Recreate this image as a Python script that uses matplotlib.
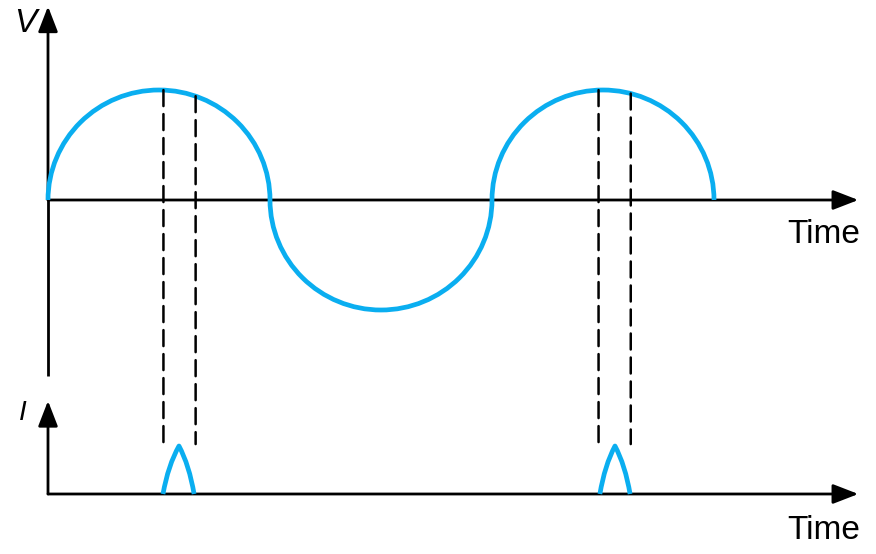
import matplotlib
matplotlib.use("Agg")
import matplotlib.pyplot as plt
from matplotlib.patches import Arc, ConnectionPatch, PathPatch
from matplotlib.path import Path

# --- data (time in half-cycles, V and I in units of their peak) ---
half_cycle_centres = [0.5, 1.5, 2.5]
half_cycle_signs = [1, -1, 1]
v_peak = 1.0

dash_times = [0.52, 0.665, 2.48, 2.625]

pulse_start = [0.518, 2.486]
pulse_peak_t = [0.59, 2.554]
pulse_end = [0.658, 2.622]
pulse_height = [1.0, 1.0]

BLUE = "#0aaef0"
BLACK = "#000000"
AXIS_LW = 2.0
WAVE_LW = 3.4

plt.rcParams["font.family"] = ["Liberation Sans", "DejaVu Sans"]

fig = plt.figure(figsize=(8.76, 5.54), dpi=100)
fig.patch.set_facecolor("white")

# two transparent overlaid axes, one for V and one for I
ax_v = fig.add_axes([0, 0, 1, 1])
ax_i = fig.add_axes([0, 0, 1, 1])
xlim = (-48 / 222, 828 / 222)
for ax in (ax_v, ax_i):
    ax.set_xlim(*xlim)
    ax.set_axis_off()
    ax.patch.set_alpha(0)
ax_v.set_ylim(-354 / 110, 200 / 110)
ax_i.set_ylim(-60 / 48, 494 / 48)

arrow = dict(arrowstyle="-|>,head_length=0.62,head_width=0.24", mutation_scale=25,
             lw=AXIS_LW, color=BLACK, shrinkA=0, shrinkB=0)

# V axes
ax_v.plot([0, 0], [-1.6, 0], color=BLACK, lw=AXIS_LW, solid_capstyle="butt")
ax_v.annotate("", xy=(0, 1.76), xytext=(0, 0), arrowprops=arrow)
ax_v.annotate("", xy=(3.65, 0), xytext=(0, 0), arrowprops=arrow)
ax_v.text(-0.104, 1.60, "V", fontsize=24, style="italic", ha="center", va="center")
ax_v.text(3.66, -0.31, "Time", fontsize=24, ha="right", va="center")

# I axes
ax_i.annotate("", xy=(0, 1.94), xytext=(0, 0), arrowprops=arrow)
ax_i.annotate("", xy=(3.65, 0), xytext=(0, 0), arrowprops=arrow)
ax_i.text(-0.113, 1.69, "I", fontsize=20, style="italic", ha="center", va="center")
ax_i.text(3.66, -0.76, "Time", fontsize=24, ha="right", va="center")

# voltage half cycles
for c, s in zip(half_cycle_centres, half_cycle_signs):
    t1, t2 = (0, 180) if s > 0 else (180, 360)
    ax_v.add_patch(Arc((c, 0), 1.0, 2 * v_peak, theta1=t1, theta2=t2,
                       color=BLUE, lw=WAVE_LW, zorder=4))

# current pulses: two gently convex flanks meeting in a point at the peak
for a, p, b, h in zip(pulse_start, pulse_peak_t, pulse_end, pulse_height):
    verts = [(a, 0), (a + 0.32 * (p - a), 0.6 * h), (p, h),
             (b - 0.32 * (b - p), 0.6 * h), (b, 0)]
    codes = [Path.MOVETO, Path.CURVE3, Path.CURVE3, Path.CURVE3, Path.CURVE3]
    ax_i.add_patch(PathPatch(Path(verts, codes), fill=False, edgecolor=BLUE,
                             lw=WAVE_LW, capstyle="butt", joinstyle="round", zorder=4))

# dashed guides from the voltage curve down to the pulses
for t in dash_times:
    c = half_cycle_centres[int(t)]
    v_top = v_peak * max(0.0, 1 - ((t - c) / 0.5) ** 2) ** 0.5
    con = ConnectionPatch(xyA=(t, v_top), coordsA=ax_v.transData,
                          xyB=(t, 1.04), coordsB=ax_i.transData,
                          color=BLACK, lw=1.8, linestyle=(0, (6.4, 3.2)),
                          zorder=2)
    fig.add_artist(con)

fig.savefig("out.png", dpi=100, facecolor="white")
